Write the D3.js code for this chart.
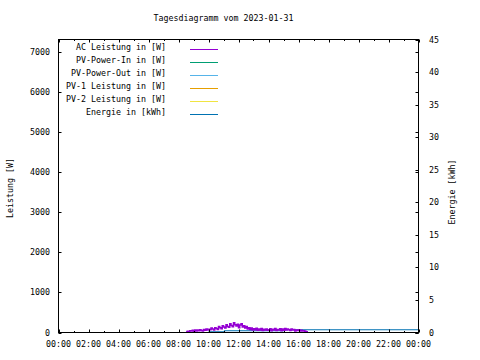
<!DOCTYPE html>
<html><head><meta charset="utf-8">
<script src="https://cdn.jsdelivr.net/npm/d3@7"></script>
<style>
html,body{margin:0;padding:0;background:#fff;}
svg text{font-family:"DejaVu Sans Mono",monospace;font-size:8.3px;fill:#000;}
</style></head><body>
<svg id="c" width="480" height="360"></svg>
<script>
const title = "Tagesdiagramm vom 2023-01-31";
const xTickLabels = ["00:00","02:00","04:00","06:00","08:00","10:00","12:00","14:00","16:00","18:00","20:00","22:00","00:00"];
const yLeftTicks = [0,1000,2000,3000,4000,5000,6000,7000];
const yRightTicks = [0,5,10,15,20,25,30,35,40,45];
const seriesNames = ["AC Leistung in [W]","PV-Power-In in [W]","PV-Power-Out in [W]","PV-1 Leistung in [W]","PV-2 Leistung in [W]","Energie in [kWh]"];
const seriesColors = ["#9400d3","#009e73","#56b4e9","#e69f00","#f0e442","#0072b2"];
// AC Leistung (W), 5-minute samples starting 08:30
const acTimes = ["08:30","08:35","08:40","08:45","08:50","08:55","09:00","09:05","09:10","09:15",
 "09:20","09:25","09:30","09:35","09:40","09:45","09:50","09:55","10:00","10:05",
 "10:10","10:15","10:20","10:25","10:30","10:35","10:40","10:45","10:50","10:55",
 "11:00","11:05","11:10","11:15","11:20","11:25","11:30","11:35","11:40","11:45",
 "11:50","11:55","12:00","12:05","12:10","12:15","12:20","12:25","12:30","12:35",
 "12:40","12:45","12:50","12:55","13:00","13:05","13:10","13:15","13:20","13:25",
 "13:30","13:35","13:40","13:45","13:50","13:55","14:00","14:05","14:10","14:15",
 "14:20","14:25","14:30","14:35","14:40","14:45","14:50","14:55","15:00","15:05",
 "15:10","15:15","15:20","15:25","15:30","15:35","15:40","15:45","15:50","15:55",
 "16:00","16:05","16:10","16:15","16:20","16:25","16:30","16:35"];
const acValues = [15,30,20,45,35,55,30,60,40,65,
 45,70,50,35,75,55,90,60,80,70,
 110,85,60,120,100,75,150,120,95,170,
 140,110,190,150,130,220,175,145,240,190,
 160,205,120,185,215,140,170,110,150,90,
 120,75,110,60,95,70,105,55,85,65,
 100,50,80,60,90,55,70,95,45,80,
 60,100,50,75,65,95,45,85,55,100,
 60,90,70,50,85,60,75,40,65,50,
 70,35,55,40,45,30,20,10];
// Energie (kWh)
const enTimes = ["10:00","11:04","11:04","15:00","15:00","24:00"];
const enValues = [0.1,0.1,0.27,0.27,0.42,0.42];

const hrs = s => { const [h,m] = s.split(":").map(Number); return h + m/60; };

const svg = d3.select("#c");
const L = 58.5, R = 418.5, T = 39.5, B = 332.5;
const x = d3.scaleLinear().domain([0,24]).range([L,R]);
const y = d3.scaleLinear().domain([0,7300]).range([B,T]);
const y2 = d3.scaleLinear().domain([0,45]).range([B,T]);

svg.append("text").attr("x",223.5).attr("y",18).attr("text-anchor","middle").attr("dominant-baseline","middle").text(title);

// data
const acData = acTimes.map((t,i)=>[hrs(t),acValues[i]]);
const enData = enTimes.map((t,i)=>[hrs(t),enValues[i]]);
svg.append("path").datum(enData).attr("fill","none").attr("stroke",seriesColors[5]).attr("stroke-width",1.2)
  .attr("d",d3.line().x(d=>x(d[0])).y(d=>y2(d[1])));
svg.append("path").datum(acData).attr("fill","none").attr("stroke",seriesColors[0]).attr("stroke-width",1.5)
  .attr("d",d3.line().x(d=>x(d[0])).y(d=>y(d[1])).curve(d3.curveStepAfter));

// frame
svg.append("rect").attr("x",L).attr("y",T).attr("width",R-L).attr("height",B-T).attr("fill","none").attr("stroke","#000").attr("stroke-width",1);

const tk = svg.append("g").attr("stroke","#000").attr("stroke-width",1);
// x ticks hourly (major every 2h)
d3.range(0,25).forEach(h=>{
  const len = h%2===0 ? 3 : 1.5;
  const px = Math.round(x(h)) + 0.5;
  tk.append("line").attr("x1",px).attr("x2",px).attr("y1",B).attr("y2",B-len);
  tk.append("line").attr("x1",px).attr("x2",px).attr("y1",T).attr("y2",T+len);
});
// left ticks + mirror
yLeftTicks.forEach(v=>{
  const py = Math.round(y(v)) + 0.5;
  tk.append("line").attr("x1",L).attr("x2",L+3).attr("y1",py).attr("y2",py);
  tk.append("line").attr("x1",R).attr("x2",R-3).attr("y1",py).attr("y2",py);
  svg.append("text").attr("x",50).attr("y",py).attr("text-anchor","end").attr("dominant-baseline","middle").text(v);
});
// right ticks
yRightTicks.forEach(v=>{
  const py = Math.round(y2(v)) + 0.5;
  tk.append("line").attr("x1",R).attr("x2",R-3).attr("y1",py).attr("y2",py);
  svg.append("text").attr("x",429).attr("y",py).attr("text-anchor","start").attr("dominant-baseline","middle").text(v);
});
xTickLabels.forEach((t,i)=>{
  svg.append("text").attr("x",x(i*2)).attr("y",344).attr("text-anchor","middle").attr("dominant-baseline","middle").text(t);
});
svg.append("text").attr("transform","translate(10,188) rotate(-90)").attr("text-anchor","middle").attr("dominant-baseline","middle").text("Leistung [W]");
svg.append("text").attr("transform","translate(452,192) rotate(-90)").attr("text-anchor","middle").attr("dominant-baseline","middle").text("Energie [kWh]");

// legend
seriesNames.forEach((n,i)=>{
  const ty = 47.5 + i*13;
  svg.append("text").attr("x",166).attr("y",ty).attr("text-anchor","end").attr("dominant-baseline","middle").text(n);
  svg.append("line").attr("x1",190).attr("x2",218).attr("y1",ty+2).attr("y2",ty+2).attr("stroke",seriesColors[i]).attr("stroke-width",1);
});
</script></body></html>
